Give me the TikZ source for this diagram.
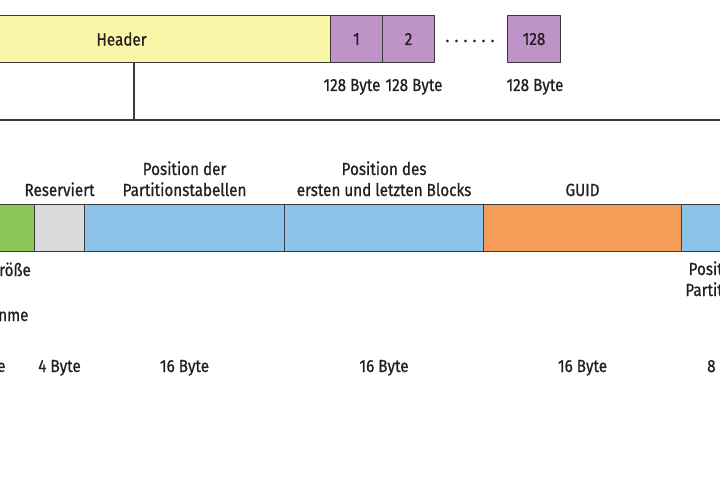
\documentclass[tikz,border=0pt]{standalone}
\usepackage{fontspec}
\setmainfont{Fira Sans}[FakeStretch=0.87,FakeBold=0.8]
\usetikzlibrary{positioning}
\definecolor{edge}{HTML}{3C3A3A}
\definecolor{ink}{HTML}{231F20}
\definecolor{hdr}{HTML}{FBF5A8}
\definecolor{entry}{HTML}{BE93C8}
\definecolor{size}{HTML}{8DC75A}
\definecolor{resv}{HTML}{D9DADB}
\definecolor{pos}{HTML}{8CC3EA}
\definecolor{guid}{HTML}{F59D58}
\begin{document}
\begin{tikzpicture}[x=1pt,y=-1pt,line join=round,line cap=round,
	font=\fontsize{17.5}{21}\selectfont,
	seg/.style={draw=edge,line width=1.1pt,minimum height=47pt,inner sep=0pt,anchor=north west,text=ink},
	lbl/.style={text=ink,inner sep=0pt,align=center}]
	\clip (0,0) rectangle (720,500);
	% Header und Eintraege
	\node[seg,fill=hdr,minimum width=418pt] (hdr) at (-88,15) {Header};
	\node[seg,fill=entry,minimum width=52pt] (e1) at (330,15) {1};
	\node[seg,fill=entry,minimum width=52pt] (e2) at (382,15) {2};
	\node[seg,fill=entry,minimum width=53pt] (e128) at (507,15) {128};
	\node[lbl] (dots) at (470,41) {. . . . . .};
	\foreach \n/\x in {e1/352,e2/414,e128/535}\node[lbl,anchor=base] (\n b) at (\x,91) {128 Byte};
	\coordinate (tl) at (0,120);
	\coordinate (tr) at (720,120);
	\coordinate (hk) at (134,120);
	\draw[edge,line width=1.3pt] (tl)--(tr);
	\draw[edge,line width=1.1pt] (hdr.south -| hk)--(hk);
	% Felder des Headers
	\foreach \n/\x/\w/\c in {gs/-60/94/size,rs/34/50/resv,pt/84/200/pos,bl/284/199/pos,gd/483/198/guid,pp/681/100/pos}
		\node[seg,fill=\c,minimum width=\w] (\n) at (\x,204) {};
	\node[lbl,anchor=base] (rsl) at (rs.north |- 0,196) {Reserviert};
	\node[lbl,anchor=base] (ptl) at (pt.north |- 0,196) {Position der\\Partitionstabellen};
	\node[lbl,anchor=base] (bll) at (bl.north |- 0,196) {Position des\\ersten und letzten Blocks};
	\node[lbl,anchor=base] (gdl) at (gd.north |- 0,196) {GUID};
	\foreach \n/\t in {rs/4,pt/16,bl/16,gd/16}\node[lbl,anchor=base] (\n s) at (\n.south |- 0,372) {\t{} Byte};
	% abgeschnittene Texte am Rand
	\node[lbl,anchor=base west] (gsa) at (-1,276) {röße};
	\node[lbl,anchor=base west] (gsb) at (-2,321) {nme};
	\node[lbl,anchor=base west] (gss) at (-3,372) {e};
	\node[lbl,anchor=base east] (ppa) at (723,275) {Posit};
	\node[lbl,anchor=base east] (ppb) at (723,296) {Partit};
	\node[lbl,anchor=base west] (pps) at (707,372) {8};
\end{tikzpicture}
\end{document}
